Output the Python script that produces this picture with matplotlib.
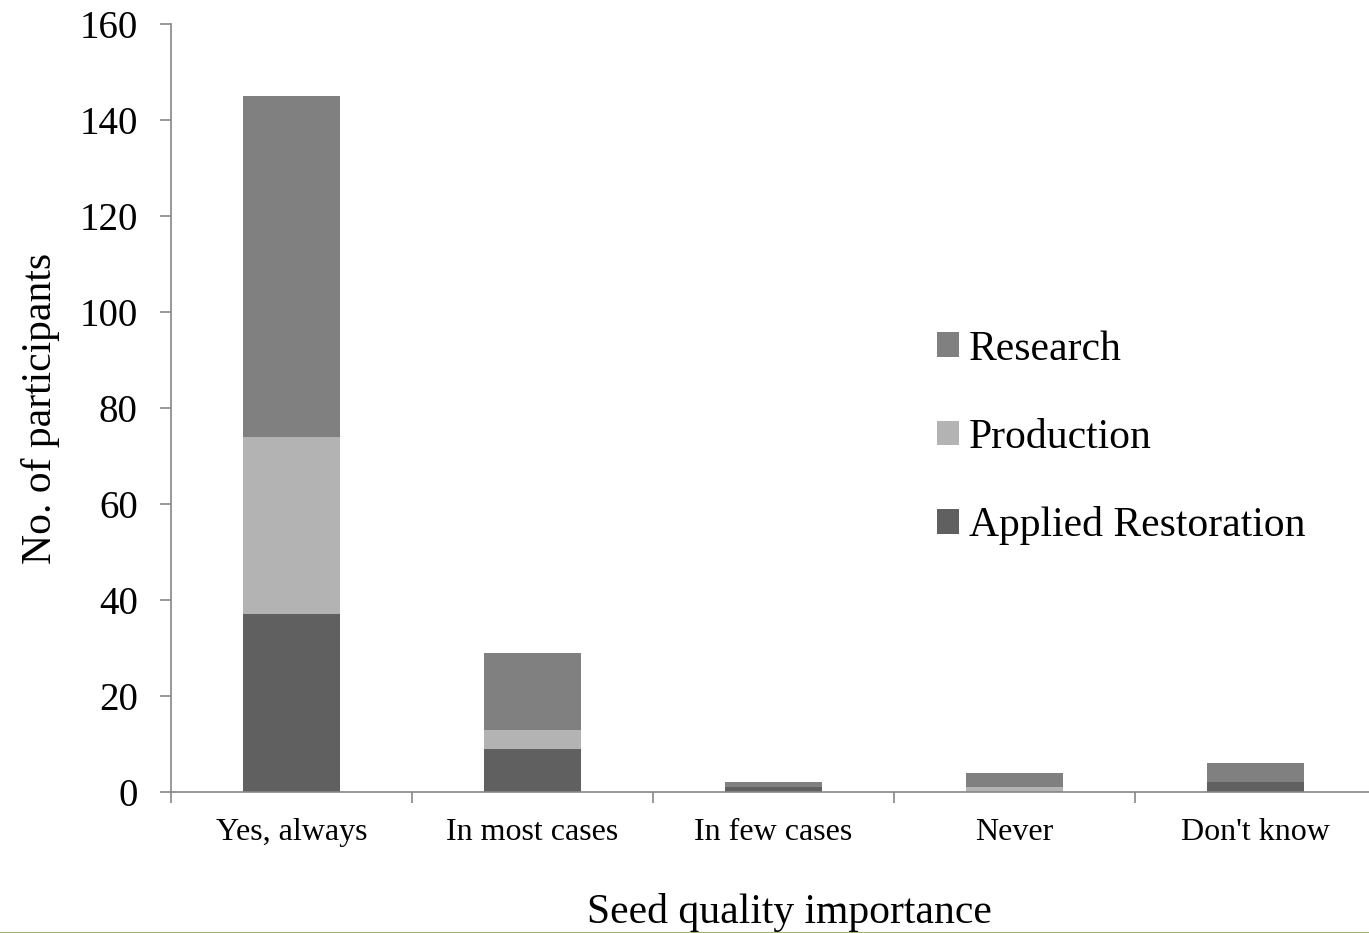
import matplotlib
matplotlib.use("Agg")
from matplotlib import pyplot as plt
import numpy as np

categories = ["Yes, always", "In most cases", "In few cases", "Never", "Don't know"]
applied = [37, 9, 1, 0, 2]
production = [37, 4, 0, 1, 0]
research = [71, 16, 1, 3, 4]

plt.rcParams['font.family'] = ['Liberation Serif', 'DejaVu Serif']

fig = plt.figure(figsize=(13.69, 9.33), dpi=100)
ax = fig.add_axes([171 / 1369, 1 - 792 / 933, 1205 / 1369, 768 / 933])

x = np.arange(len(categories))
applied = np.array(applied)
production = np.array(production)
research = np.array(research)

b1 = ax.bar(x, applied, width=0.4, color="#606060", label="Applied Restoration")
b2 = ax.bar(x, production, width=0.4, bottom=applied, color="#b3b3b3", label="Production")
b3 = ax.bar(x, research, width=0.4, bottom=applied + production, color="#808080", label="Research")

ax.set_xlim(-0.5, len(categories) - 0.5)
ax.set_ylim(0, 160)
ax.set_yticks(range(0, 161, 20))
ax.tick_params(axis="y", labelsize=28, direction="out", length=8, width=1.2,
               color="#868686", pad=16)

ax.set_xticks(x)
ax.set_xticklabels(categories, fontsize=23)
ax.tick_params(axis="x", length=0, pad=19)
ax.set_xticks(np.arange(0, len(categories)) - 0.5, minor=True)
ax.tick_params(axis="x", which="minor", length=8, width=1.2, color="#868686", direction="out")

for s in ["top", "right"]:
    ax.spines[s].set_visible(False)
for s in ["left", "bottom"]:
    ax.spines[s].set_color("#868686")
    ax.spines[s].set_linewidth(1.2)

ax.set_ylabel("No. of participants", fontsize=30, labelpad=14)
ax.set_xlabel("Seed quality importance", fontsize=30)
ax.xaxis.set_label_coords(0.513, -0.131)

ax.legend(handles=[b3, b2, b1], loc="upper left",
          bbox_to_anchor=(937 / 1369, 1 - 330 / 933), bbox_transform=fig.transFigure,
          frameon=False, fontsize=30, borderpad=0, borderaxespad=0,
          handlelength=0.53, handleheight=0.53,
          handletextpad=0.24, labelspacing=1.19)

fig.add_artist(plt.Line2D([0, 1], [0.5 / 933, 0.5 / 933], color="#9bbb59", linewidth=1.5))

fig.savefig("out.png", dpi=100)
